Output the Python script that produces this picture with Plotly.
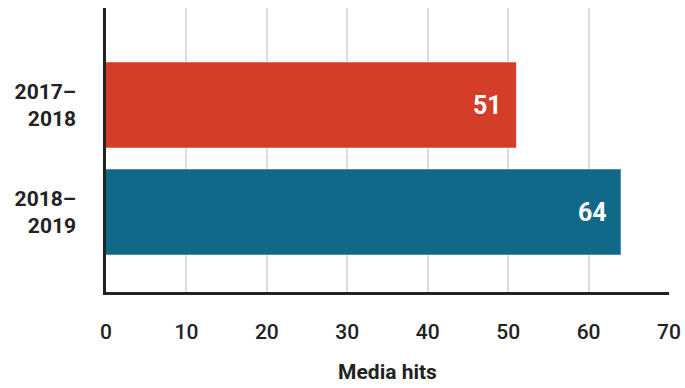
import plotly.graph_objects as go

categories = ["2017–<br>2018", "2018–<br>2019"]
values = [51, 64]
colors = ["#D43D27", "#11698A"]
x_ticks = [0, 10, 20, 30, 40, 50, 60, 70]

fig = go.Figure()
fig.add_trace(go.Bar(
    y=categories, x=values, orientation="h",
    marker=dict(color=colors, line=dict(width=0)),
    hoverinfo="skip", showlegend=False,
))

for c, v in zip(categories, values):
    fig.add_annotation(x=v, y=c, text=f"<b>{v}</b>", showarrow=False,
                       xanchor="right", xshift=-12,
                       font=dict(family="Roboto", size=25, color="white"))

fig.update_layout(
    width=685, height=388,
    margin=dict(l=106, r=16, t=8, b=96),
    paper_bgcolor="white", plot_bgcolor="white",
    bargap=0.2,
    font=dict(family="Roboto", color="#222222"),
)
fig.update_xaxes(
    range=[0, 70], tickvals=x_ticks, automargin=False,
    showgrid=True, gridcolor="#DDDDDD", gridwidth=1.5,
    showline=True, linecolor="#222222", linewidth=2.5,
    zeroline=False, ticks="", ticklabelstandoff=19,
    tickfont=dict(family="Roboto", size=21, color="#222222", weight=500),
    title=dict(text="<b>Media hits</b>", standoff=22,
               font=dict(family="Roboto", size=21, color="#222222")),
)
fig.update_yaxes(
    range=[1.747, -0.907], automargin=False,
    showgrid=False, showline=True, linecolor="#222222", linewidth=2.5,
    ticks="", ticklabelstandoff=23,
    tickfont=dict(family="Roboto", size=21, color="#222222", weight=700),
)

fig.write_html("out.html")
